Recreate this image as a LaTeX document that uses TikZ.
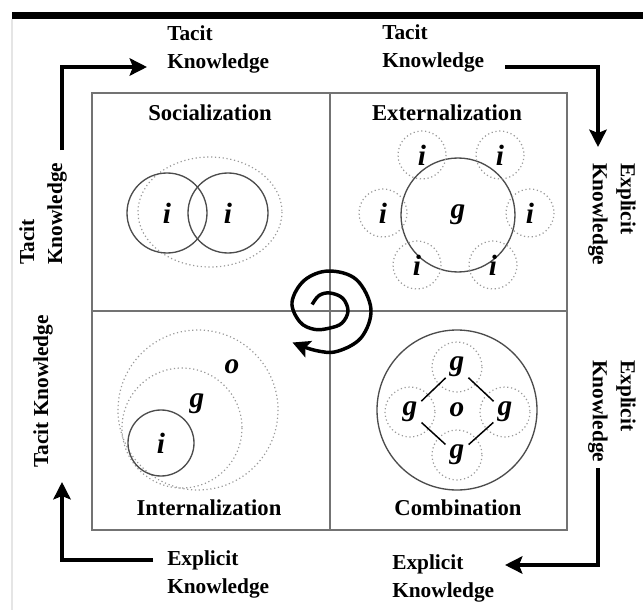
\documentclass[tikz,border=0pt]{standalone}
\usepackage{fontspec}
\setmainfont{Liberation Serif}
\usetikzlibrary{arrows.meta}

\begin{document}
\begin{tikzpicture}[x=0.75pt, y=-0.75pt,
    flow/.style={line width=2.7pt, -{Stealth[length=13pt, width=13pt, inset=2.5pt]}},
    spin/.style={line width=2.6pt, -{Stealth[length=13pt, width=13pt, inset=2.5pt]}},
    frame/.style={draw=black!55, line width=1.1pt},
    title/.style={font=\bfseries\fontsize{17}{21}\selectfont},
    side/.style={font=\bfseries\fontsize{16}{21}\selectfont, align=left, inner sep=0pt},
    lett/.style={font=\bfseries\itshape\fontsize{22}{24}\selectfont, inner sep=0pt, circle, minimum size=23pt},
    ring/.style={draw=black!70, line width=1pt},
    dots/.style={draw=black!40, dotted, line width=0.9pt},
    link/.style={line width=1.1pt}]
  \useasboundingbox (0,0) rectangle (643,610);

  % page rule
  \fill (12,12) rectangle (643,19);
  \draw[black!10, line width=1pt] (12,19) -- (12,610);

  % the four quadrants
  \draw[frame] (92,93) rectangle (567,530);
  \draw[frame] (330,93) -- (330,530);
  \draw[frame] (92,311) -- (567,311);

  \node[title] (soc) at (210,113) {Socialization};
  \node[title] (ext) at (447,113) {Externalization};
  \node[title] (int) at (209,508) {Internalization};
  \node[title] (com) at (458,508) {Combination};

  % socialization
  \draw[dots] (210,212) ellipse [x radius=72, y radius=55];
  \node[lett] (s1) at (167,213) {i};
  \node[lett] (s2) at (228,213) {i};
  \draw[ring] (s1) circle [radius=40];
  \draw[ring] (s2) circle [radius=40];

  % externalization
  \node[lett] (eg) at (458,215) {g};
  \draw[ring] (eg) circle [radius=57];
  \foreach \p/\n in {{(422,155)}/e1, {(500,155)}/e2, {(383,213)}/e3,
                     {(530,213)}/e4, {(417,265)}/e5, {(493,265)}/e6} {
    \node[lett] (\n) at \p {i};
    \draw[dots] (\n) circle [radius=24];
  }

  % internalization
  \coordinate (io) at (198,410);
  \coordinate (ig) at (182,428);
  \draw[dots] (io) circle [radius=80];
  \draw[dots] (ig) circle [radius=60];
  \node[lett] (oi) at (232,367) {o};
  \node[lett] (gi) at (197,404) {g};
  \node[lett] (ii) at (161,443) {i};
  \draw[ring] (ii) circle [radius=33];

  % combination
  \node[lett] (co) at (457,410) {o};
  \draw[ring] (co) circle [radius=80];
  \node[lett] (gt) at (457,367) {g};
  \node[lett] (gl) at (410,412) {g};
  \node[lett] (gr) at (505,412) {g};
  \node[lett] (gb) at (457,455) {g};
  \foreach \n in {gt,gl,gr,gb}
    \draw[dots] (\n) circle [radius=25];
  \draw[link] (gt) -- (gl);
  \draw[link] (gt) -- (gr);
  \draw[link] (gb) -- (gl);
  \draw[link] (gb) -- (gr);

  % spiral
  \begin{scope}[shift={(330,311)}]
    \draw[spin] plot[smooth, tension=0.6] coordinates {(200:19) (235:19) (270:18)
      (315:18) (360:18) (405:17) (450:17) (490:24) (520:32) (553:39) (590:40)
      (628:40) (670:41) (717:41) (760:41) (800:41) (830:42) (860:49)};
  \end{scope}

  % outer labels
  \node[side, anchor=west] (ttl) at (167,49) {Tacit\\Knowledge};
  \node[side, anchor=west] (ttr) at (382,48) {Tacit\\Knowledge};
  \node[side, rotate=-90, anchor=west] (er1) at (612,163) {Explicit\\Knowledge};
  \node[side, rotate=-90, anchor=west] (er2) at (612,360) {Explicit\\Knowledge};
  \node[side, anchor=west] (ebr) at (392,578) {Explicit\\Knowledge};
  \node[side, anchor=west] (ebl) at (167,574) {Explicit\\Knowledge};
  \node[side, rotate=90, anchor=west] (lt2) at (43,468) {Tacit Knowledge};
  \node[side, rotate=90, anchor=west] (lt1) at (43,265) {Tacit\\Knowledge};

  % outer arrows
  \coordinate (a1) at (62,150);   \coordinate (b1) at (147,67);
  \coordinate (a2) at (505,67);   \coordinate (b2) at (598,147);
  \coordinate (a3) at (598,468);  \coordinate (b3) at (505,565);
  \coordinate (a4) at (153,560);  \coordinate (b4) at (62,482);
  \draw[flow] (a1) |- (b1);
  \draw[flow] (a2) -| (b2);
  \draw[flow] (a3) |- (b3);
  \draw[flow] (a4) -| (b4);
\end{tikzpicture}
\end{document}
